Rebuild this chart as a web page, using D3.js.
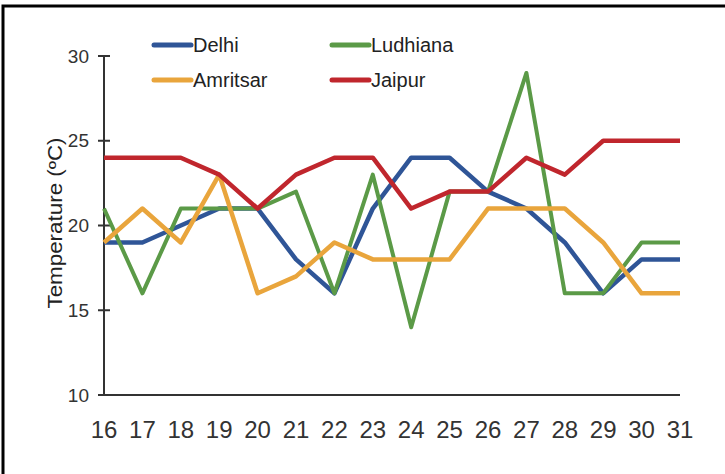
<!DOCTYPE html>
<html><head><meta charset="utf-8">
<script src="https://cdn.jsdelivr.net/npm/d3@7"></script>
<style>body{margin:0;background:#fff;} svg{display:block;}</style>
</head><body>
<script>
const days = [16,17,18,19,20,21,22,23,24,25,26,27,28,29,30,31];
const delhi    = [19,19,20,21,21,18,16,21,24,24,22,21,19,16,18,18];
const ludhiana = [21,16,21,21,21,22,16,23,14,22,22,29,16,16,19,19];
const amritsar = [19,21,19,23,16,17,19,18,18,18,21,21,21,19,16,16];
const jaipur   = [24,24,24,23,21,23,24,24,21,22,22,24,23,25,25,25];
const yTicks = [10,15,20,25,30];
const seriesNames = ["Delhi","Ludhiana","Amritsar","Jaipur"];
const seriesColors = ["#2f5597","#5b9a47","#e9a53c","#c0262d"];
const seriesValues = [delhi, ludhiana, amritsar, jaipur];

const W = 725, H = 474;
const svg = d3.select("body").append("svg").attr("width", W).attr("height", H);

// frame (top and left edges)
svg.append("path").attr("d", `M3,${H} L3,6 L${W},6`).attr("fill","none").attr("stroke","#000").attr("stroke-width",3);

const x = d3.scaleLinear().domain([16,31]).range([104,680]);
const y = d3.scaleLinear().domain([10,30]).range([395,56]);

// y axis
const ya = svg.append("g").attr("transform","translate(104,0)");
ya.append("line").attr("x1",0).attr("x2",0).attr("y1",y(30)).attr("y2",y(10)).attr("stroke","#333").attr("stroke-width",2);
yTicks.forEach(t => {
  ya.append("line").attr("x1",-6).attr("x2", t===10?0:6).attr("y1",y(t)).attr("y2",y(t)).attr("stroke","#333").attr("stroke-width",2);
  ya.append("text").attr("x",-15).attr("y",y(t)).attr("dy","0.35em").attr("text-anchor","end")
    .attr("font-family","'Liberation Sans Narrow','Arial Narrow',sans-serif").attr("font-size",19).attr("fill","#333").text(t);
});

// x axis
svg.append("line").attr("x1",x(16)-2).attr("x2",x(31)).attr("y1",y(10)).attr("y2",y(10)).attr("stroke","#333").attr("stroke-width",2);
days.forEach(d => {
  svg.append("text").attr("x",x(d)).attr("y",438).attr("text-anchor","middle")
    .attr("font-family","'Liberation Sans Narrow','Arial Narrow',sans-serif").attr("font-size",24).attr("fill","#333").text(d);
});

// y title
svg.append("text").attr("transform",`translate(62,223) rotate(-90) scale(1.12,1)`).attr("text-anchor","middle")
  .attr("font-family","'Liberation Sans',Arial,sans-serif").attr("font-size",20).attr("fill","#222").text("Temperature (ºC)");

// lines
const line = d3.line().x((d,i)=>x(days[i])).y(d=>y(d));
seriesValues.forEach((vals,k) => {
  svg.append("path").datum(vals).attr("d",line).attr("fill","none")
    .attr("stroke",seriesColors[k]).attr("stroke-width", k===1?4:4.5).attr("stroke-linejoin","round");
});

// legend
const legPos = [[152,45],[330,45],[152,80],[330,80]];
seriesNames.forEach((n,k) => {
  const [lx,ly] = legPos[k];
  svg.append("line").attr("x1",lx+2).attr("x2",lx+39).attr("y1",ly).attr("y2",ly)
    .attr("stroke",seriesColors[k]).attr("stroke-width",5).attr("stroke-linecap","round");
  svg.append("text").attr("x",lx+41).attr("y",ly).attr("dy","0.35em")
    .attr("font-family","'Liberation Sans Narrow','Arial Narrow',sans-serif").attr("font-size",20).attr("fill","#222").text(n);
});
</script>
</body></html>
